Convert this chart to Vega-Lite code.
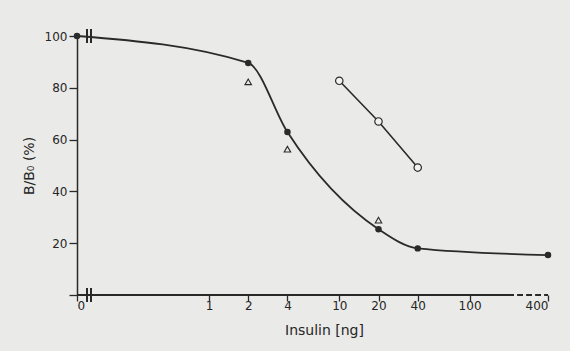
{
  "$schema": "https://vega.github.io/schema/vega-lite/v6.json",
  "width": 471,
  "height": 259,
  "autosize": {"type": "none"},
  "padding": {"left": 77, "top": 36, "right": 22, "bottom": 56},
  "background": "#eaeae8",
  "config": {
    "view": {"stroke": null},
    "axis": {
      "labelFont": "DejaVu Sans",
      "titleFont": "DejaVu Sans",
      "labelColor": "#262626",
      "titleColor": "#262626",
      "tickColor": "#2a2a2a",
      "domainColor": "#2a2a2a",
      "grid": false,
      "labelFontSize": 12,
      "titleFontSize": 14,
      "titleFontWeight": "normal",
      "tickWidth": 1.3,
      "domainWidth": 1.5
    }
  },
  "datasets": {
    "obs": [
      {"insulin": 0, "bb0": 100, "series": "filled"},
      {"insulin": 2, "bb0": 89.6, "series": "filled"},
      {"insulin": 4, "bb0": 62.9, "series": "filled"},
      {"insulin": 20, "bb0": 25.4, "series": "filled"},
      {"insulin": 40, "bb0": 18.0, "series": "filled"},
      {"insulin": 400, "bb0": 15.4, "series": "filled"},
      {"insulin": 10, "bb0": 82.7, "series": "open"},
      {"insulin": 20, "bb0": 67.0, "series": "open"},
      {"insulin": 40, "bb0": 49.2, "series": "open"},
      {"insulin": 2, "bb0": 82.3, "series": "triangle"},
      {"insulin": 4, "bb0": 56.3, "series": "triangle"},
      {"insulin": 20, "bb0": 28.9, "series": "triangle"}
    ]
  },
  "data": {"name": "obs"},
  "encoding": {
    "x": {
      "field": "insulin",
      "type": "quantitative",
      "scale": {"type": "log", "domain": [0.097, 400], "clamp": true},
      "axis": {
        "values": [0.097, 1, 2, 4, 10, 20, 40, 100, 400],
        "labelExpr": "datum.value < 0.5 ? '0' : format(datum.value, 'd')",
        "domain": false,
        "tickSize": 6,
        "labelPadding": -1,
        "title": "Insulin [ng]",
        "titleX": 247,
        "titleY": 28,
        "titleAlign": "center"
      }
    },
    "y": {
      "field": "bb0",
      "type": "quantitative",
      "scale": {"domain": [0, 100]},
      "axis": {
        "values": [0, 20, 40, 60, 80, 100],
        "labelExpr": "datum.value == 0 ? '' : datum.label",
        "tickSize": 8,
        "labelPadding": 2,
        "title": "B/B₀ (%)",
        "titlePadding": 8
      }
    }
  },
  "layer": [
    {
      "mark": {"type": "rule", "color": "#2a2a2a", "strokeWidth": 1.5},
      "encoding": {
        "x": {"datum": 0.097},
        "x2": {"datum": 200},
        "y": {"datum": 0}
      }
    },
    {
      "mark": {"type": "rule", "color": "#2a2a2a", "strokeWidth": 1.3, "strokeDash": [5, 4]},
      "encoding": {
        "x": {"datum": 200},
        "x2": {"datum": 400},
        "y": {"datum": 0}
      }
    },
    {
      "transform": [{"filter": "datum.series == 'filled'"}],
      "mark": {"type": "line", "interpolate": "monotone", "color": "#2a2a2a", "strokeWidth": 1.8, "invalid": null}
    },
    {
      "mark": {"type": "point", "shape": "M-0.3,-1L-0.3,1M0.3,-1L0.3,1", "filled": false, "stroke": "#2a2a2a", "strokeWidth": 1.4, "size": 196},
      "encoding": {"x": {"datum": 0.12}, "y": {"datum": 100}}
    },
    {
      "mark": {"type": "point", "shape": "M-0.3,-1L-0.3,1M0.3,-1L0.3,1", "filled": false, "stroke": "#2a2a2a", "strokeWidth": 1.4, "size": 196},
      "encoding": {"x": {"datum": 0.12}, "y": {"datum": 0}}
    },
    {
      "transform": [{"filter": "datum.series == 'filled'"}],
      "mark": {"type": "point", "shape": "circle", "filled": true, "color": "#2a2a2a", "size": 42, "opacity": 1, "invalid": null}
    },
    {
      "transform": [{"filter": "datum.series == 'open'"}],
      "mark": {"type": "line", "color": "#2a2a2a", "strokeWidth": 1.6}
    },
    {
      "transform": [{"filter": "datum.series == 'open'"}],
      "mark": {"type": "point", "shape": "circle", "filled": true, "fill": "#f2f2f0", "stroke": "#2a2a2a", "strokeWidth": 1.2, "size": 55, "opacity": 1}
    },
    {
      "transform": [{"filter": "datum.series == 'triangle'"}],
      "mark": {"type": "point", "shape": "triangle-up", "filled": false, "stroke": "#2a2a2a", "strokeWidth": 1.1, "size": 42, "opacity": 1}
    }
  ]
}
